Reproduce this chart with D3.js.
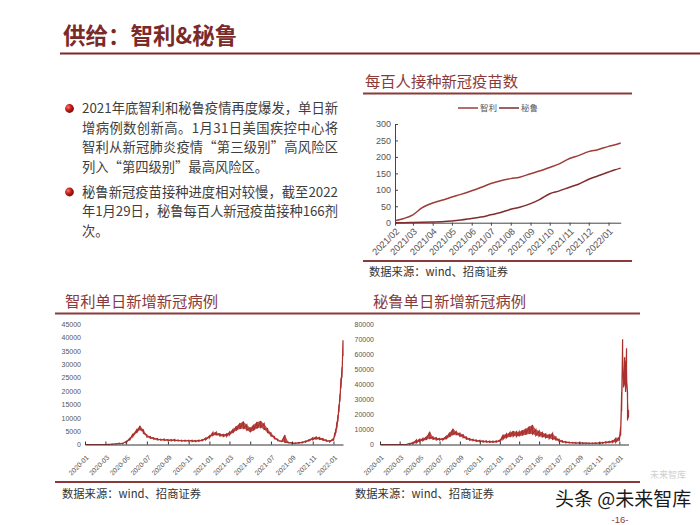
<!DOCTYPE html>
<html><head><meta charset="utf-8">
<script src="https://cdn.jsdelivr.net/npm/d3@7"></script>
<style>body{margin:0;background:#fff} svg{display:block}</style>
</head><body><svg id="c" width="700" height="525"></svg>
<script>
// ---------- data ----------
const vacDates = ["2021-02-01","2021-02-15","2021-03-01","2021-03-15","2021-04-01","2021-04-15","2021-05-01","2021-05-15",
  "2021-06-01","2021-06-15","2021-07-01","2021-07-15","2021-08-01","2021-08-15","2021-09-01","2021-09-15",
  "2021-10-01","2021-10-15","2021-11-01","2021-11-15","2021-12-01","2021-12-15","2022-01-01","2022-01-10","2022-01-20"];
const chileVac = [6,13,24,45,60,68,78,86,97,107,119,127,134,138,149,157,168,178,195,204,216,222,232,236,242];
const peruVac  = [0,0,0.5,1,2,3,5,8,13,17,24,30,41,47,58,70,88,96,108,117,132,142,154,160,166];
const vacTickLabels = ["2021/02","2021/03","2021/04","2021/05","2021/06","2021/07","2021/08","2021/09","2021/10","2021/11","2021/12","2022/01"];
const vacYTicks = [0,50,100,150,200,250,300];
const legendNames = ["智利","秘鲁"];

// daily cases: sampled on days 1/11/21 of each month 2020-01..2021-12, then denser in 2022-01
const caseMonths = ["2020-01","2020-02","2020-03","2020-04","2020-05","2020-06","2020-07","2020-08","2020-09","2020-10","2020-11","2020-12",
  "2021-01","2021-02","2021-03","2021-04","2021-05","2021-06","2021-07","2021-08","2021-09","2021-10","2021-11","2021-12"];
const caseMonthDays = [1,11,21];
const lastMonth = "2022-01";
const lastMonthDays = [1,5,8,11,14,17,20,23,26,29];

const chileHigh = [0,0,0, 0,0,0, 0,10,200, 300,450,500, 1200,2200,4000, 5500,7000,5500, 3600,3000,2500, 2200,2000,2000,
  1900,1800,1900, 1700,1600,1600, 1600,1600,1500, 1600,1800,2400,
  3200,4500,4600, 4000,3800,4000, 4600,5600,6800, 8000,8600,7400, 6200,7400,8400, 8800,7800,6000,
  4400,3000,2000, 1300,3600,900, 700,600,700, 900,1300,1800, 2500,2800,2600, 2200,1700,1400,
  2200,4500,6000,8500,11000,15000,19000,25000,29000,39000];
const chileLow = [0,0,0, 0,0,0, 0,0,50, 150,250,300, 800,1500,3000, 4300,5500,4200, 2800,2300,2000, 1700,1600,1500,
  1400,1400,1300, 1300,1200,1200, 1200,1100,1100, 1200,1400,1800,
  2500,3400,3600, 3200,3000,3100, 3600,4300,5200, 5800,6000,5400, 4600,5200,6000, 6400,5600,4400,
  3200,2200,1400, 900,800,600, 400,400,500, 600,900,1300, 1800,2000,1900, 1600,1200,1000,
  1400,3000,4200,6000,8500,12000,16000,21000,25000,33000];
const peruHigh = [0,0,0, 0,0,0, 0,0,100, 800,1500,3000, 3500,4000,5000, 8500,5000,4500, 4000,4000,5500, 8000,10500,8500,
  7500,6500,5000, 4000,3500,3000, 2800,2500,2400, 2200,2200,2400,
  3000,6500,7000, 8000,9000,8500, 8500,9500,10500, 12000,13000,10000, 9000,8000,7000, 6500,7500,5000,
  3500,2500,2000, 1600,1400,1300, 1200,1200,1100, 1000,1000,1100, 1200,1400,1800, 2000,2500,4000,
  5000,12000,35000,70000,48000,58000,55000,64000,35000,23000];
const peruLow = [0,0,0, 0,0,0, 0,0,20, 200,500,1000, 2000,2500,3000, 4000,3500,3000, 3000,3000,3500, 5000,6500,6500,
  5500,4500,3500, 2800,2500,2000, 1800,1600,1500, 1400,1400,1500,
  1800,3500,4500, 5000,5500,5500, 5500,6000,6500, 7000,7000,6000, 5500,5000,4500, 4000,3500,3000,
  2000,1500,1200, 1000,900,800, 800,700,700, 600,600,600, 700,800,1000, 1200,1400,1500,
  2500,6000,22000,45000,38000,40000,35000,42000,16000,18000];
const caseTickLabels = ["2020-01","2020-03","2020-05","2020-07","2020-09","2020-11","2021-01","2021-03","2021-05","2021-07","2021-09","2021-11","2022-01"];
const chileYTicks = [0,5000,10000,15000,20000,25000,30000,35000,40000,45000];
const peruYTicks = [0,10000,20000,30000,40000,50000,60000,70000,80000];

const bullet1 = ["2021年底智利和秘鲁疫情再度爆发，单日新","增病例数创新高。1月31日美国疾控中心将","智利从新冠肺炎疫情“第三级别”高风险区","列入“第四级别”最高风险区。"];
const bullet2 = ["秘鲁新冠疫苗接种进度相对较慢，截至2022","年1月29日，秘鲁每百人新冠疫苗接种166剂","次。"];

// ---------- drawing ----------
const svg = d3.select("#c");
const CJK = "'Noto Sans CJK SC','Noto Sans',sans-serif";
const SANS = "'Liberation Sans',Arial,sans-serif";
const RED = "#7b2a2a";
const LINE_RED = "#8b3a3a";
const parse = d3.timeParse("%Y-%m-%d");
const parseM = d3.timeParse("%Y-%m");

// main title
svg.append("text").attr("x",63).attr("y",44).attr("font-family",CJK).attr("font-size",22.5)
  .attr("font-weight",700).attr("fill",RED).text("供给：智利&秘鲁");
svg.append("line").attr("x1",60).attr("x2",700).attr("y1",53.5).attr("y2",53.5).attr("stroke",RED).attr("stroke-width",2);

// bullets
const defs = svg.append("defs");
const rg = defs.append("radialGradient").attr("id","ball").attr("cx","35%").attr("cy","35%").attr("r","70%");
rg.append("stop").attr("offset","0%").attr("stop-color","#ff7a6a");
rg.append("stop").attr("offset","45%").attr("stop-color","#c8201a");
rg.append("stop").attr("offset","100%").attr("stop-color","#6e0a08");

function para(lines, y0, justifyCount){
  svg.append("circle").attr("cx",69.5).attr("cy",y0-4.5).attr("r",4.4).attr("fill","url(#ball)");
  lines.forEach((t,i)=>{
    const tx = svg.append("text").attr("x",82).attr("y",y0+i*19.7).attr("font-family",CJK)
      .attr("font-size",13.3).attr("fill","#3d3d3d").text(t);
    if(i<justifyCount) tx.attr("textLength",256).attr("lengthAdjust","spacing");
  });
}
para(bullet1,113,3);
para(bullet2,196.5,2);

// ---------- vaccine chart ----------
svg.append("text").attr("x",365).attr("y",86.5).attr("font-family",CJK).attr("font-size",15.3).attr("fill",LINE_RED).text("每百人接种新冠疫苗数");
svg.append("line").attr("x1",363).attr("x2",632).attr("y1",93.5).attr("y2",93.5).attr("stroke",LINE_RED).attr("stroke-width",1.8);
svg.append("line").attr("x1",363).attr("x2",632).attr("y1",261).attr("y2",261).attr("stroke",LINE_RED).attr("stroke-width",1.8);
svg.append("text").attr("x",369).attr("y",276).attr("font-family",CJK).attr("font-size",11.3).attr("fill","#333").text("数据来源：wind、招商证券");

const vx = d3.scaleTime().domain([parse("2021-02-01"), parse("2022-01-20")]).range([395, 620.7]);
const vy = d3.scaleLinear().domain([0,300]).range([222.7,124]);
const vacData = vacDates.map((d,i)=>({date:parse(d), chile:chileVac[i], peru:peruVac[i]}));
const vColors = ["#9c3d38","#7f2d2d"];

const vxAxis = svg.append("g").attr("transform",`translate(0,${vy(0)})`)
  .call(d3.axisBottom(vx).tickValues(vacTickLabels.map(s=>d3.timeParse("%Y/%m")(s))).tickFormat(d3.timeFormat("%Y/%m")).tickSizeInner(3).tickSizeOuter(0));
vxAxis.select(".domain").attr("stroke","#444");
vxAxis.selectAll(".tick line").attr("stroke","#444");
vxAxis.selectAll(".tick text").attr("font-family",SANS).attr("font-size",9.3).attr("fill","#555")
  .attr("text-anchor","end").attr("dy","0.35em").attr("y",0).attr("transform","translate(2,7) rotate(-45)");

const vyAxis = svg.append("g").attr("transform",`translate(${vx.range()[0]},0)`)
  .call(d3.axisLeft(vy).tickValues(vacYTicks).tickFormat(d3.format("d")).tickSizeInner(-3).tickSizeOuter(0).tickPadding(4));
vyAxis.select(".domain").attr("stroke","#444");
vyAxis.selectAll(".tick line").attr("stroke","#444");
vyAxis.selectAll(".tick text").attr("font-family",SANS).attr("font-size",9).attr("fill","#555");

["chile","peru"].forEach((k,i)=>{
  svg.append("path").datum(vacData).attr("fill","none").attr("stroke",vColors[i]).attr("stroke-width",1.5)
    .attr("d", d3.line().x(d=>vx(d.date)).y(d=>vy(d[k])).curve(d3.curveMonotoneX));
});
// legend
const lg = svg.append("g").attr("transform","translate(458,108)");
legendNames.forEach((n,i)=>{
  const g = lg.append("g").attr("transform",`translate(${i*41},0)`);
  g.append("line").attr("x1",0).attr("x2",20).attr("y1",0).attr("y2",0).attr("stroke",vColors[i]).attr("stroke-width",1.5);
  g.append("text").attr("x",22).attr("y",3).attr("font-family",CJK).attr("font-size",8.5).attr("fill","#555").text(n);
});

// ---------- daily case charts ----------
const caseDates = [];
caseMonths.forEach(m=>caseMonthDays.forEach(d=>caseDates.push(parse(m+"-"+String(d).padStart(2,"0")))));
lastMonthDays.forEach(d=>caseDates.push(parse(lastMonth+"-"+String(d).padStart(2,"0"))));

function caseChart(o){
  svg.append("text").attr("x",o.titleX).attr("y",307).attr("font-family",CJK).attr("font-size",15.3).attr("fill",LINE_RED).text(o.title);
  svg.append("line").attr("x1",o.boxL).attr("x2",o.boxR).attr("y1",313.5).attr("y2",313.5).attr("stroke",LINE_RED).attr("stroke-width",1.8);
  svg.append("line").attr("x1",o.boxL).attr("x2",o.boxR).attr("y1",482).attr("y2",482).attr("stroke",LINE_RED).attr("stroke-width",1.8);
  svg.append("text").attr("x",o.srcX).attr("y",497.5).attr("font-family",CJK).attr("font-size",11.3).attr("fill","#333").text("数据来源：wind、招商证券");

  const x = d3.scaleTime().domain([parse("2020-01-01"), parse("2022-01-29")]).range(o.xr);
  const y = d3.scaleLinear().domain([0, o.yTicks[o.yTicks.length-1]]).range([444.5, 324.3]);
  const data = caseDates.map((d,i)=>({date:d, hi:o.hi[i], lo:o.lo[i]}));

  // daily range band
  svg.append("path").datum(data).attr("fill","#ab2f2c").attr("fill-opacity",0.8)
    .attr("d", d3.area().x(d=>x(d.date)).y0(d=>y(d.lo)).y1(d=>y(d.hi)));
  const zig = [];
  data.forEach(d=>{ zig.push([d.date,d.hi]); zig.push([d.date,d.lo]); });
  svg.append("path").datum(zig).attr("fill","none").attr("stroke","#ab2f2c").attr("stroke-width",1.2)
    .attr("d", d3.line().x(d=>x(d[0])).y(d=>y(d[1])));

  const xa = svg.append("g").attr("transform",`translate(0,${y(0)})`)
    .call(d3.axisBottom(x).tickValues(caseTickLabels.map(s=>parseM(s))).tickFormat(d3.timeFormat("%Y-%m")).tickSizeInner(-3).tickSizeOuter(0));
  xa.select(".domain").attr("stroke","#333");
  xa.selectAll(".tick line").attr("stroke","#333");
  xa.selectAll(".tick text").attr("font-family",SANS).attr("font-size",6.8).attr("fill","#555")
    .attr("text-anchor","end").attr("dy","0.35em").attr("y",0).attr("transform","translate(2,12) rotate(-45)");

  const ya = svg.append("g").attr("transform",`translate(${o.xr[0]},0)`)
    .call(d3.axisLeft(y).tickValues(o.yTicks).tickFormat(d3.format("d")).tickSize(0).tickPadding(o.pad));
  ya.select(".domain").remove();
  ya.selectAll(".tick text").attr("font-family",SANS).attr("font-size",7).attr("fill","#555");
}
caseChart({title:"智利单日新增新冠病例", titleX:65, boxL:55, boxR:350, srcX:62, xr:[85,343], yTicks:chileYTicks, hi:chileHigh, lo:chileLow, pad:4});
caseChart({title:"秘鲁单日新增新冠病例", titleX:373, boxL:350, boxR:640, srcX:355, xr:[380,628.5], yTicks:peruYTicks, hi:peruHigh, lo:peruLow, pad:6});

// watermark / page number
svg.append("text").attr("x",650).attr("y",478).attr("font-family",CJK).attr("font-size",9).attr("fill","#d0d0d0").text("未来智库");
svg.append("text").attr("x",555).attr("y",506).attr("font-family",CJK).attr("font-size",19).attr("fill","#1a1a1a").text("头条 @未来智库");
svg.append("text").attr("x",620).attr("y",523).attr("text-anchor","middle").attr("font-family",SANS).attr("font-size",9.5).attr("fill",LINE_RED).text("-16-");
</script></body></html>
